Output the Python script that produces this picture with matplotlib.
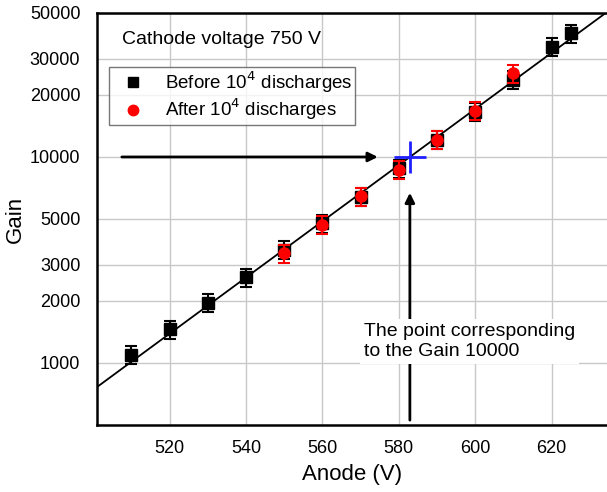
import numpy as np
import matplotlib
matplotlib.use('Agg')
import matplotlib.pyplot as plt
from matplotlib.ticker import FixedLocator, NullLocator
from matplotlib.lines import Line2D

plt.rcParams['font.family'] = ['Liberation Sans', 'DejaVu Sans']

# Gain vs anode voltage, cathode at 750 V
before_v    = [510, 520, 530, 540, 550, 560, 570, 580, 590, 600, 610, 620, 625]
before_gain = [1095, 1460, 1955, 2610, 3550, 4760, 6420, 8800, 12100, 16600, 23700, 34300, 39800]
after_v     = [550, 560, 570, 580, 590, 600, 610]
after_gain  = [3400, 4700, 6440, 8650, 12100, 16800, 25500]
rel_err     = 0.10

gain_ticks  = [1000, 2000, 3000, 5000, 10000, 20000, 30000, 50000]
volt_ticks  = [520, 540, 560, 580, 600, 620]
target_gain = 10000

fig = plt.figure(figsize=(6.07, 4.92), dpi=100)
ax = fig.add_axes([0.1598, 0.1362, 0.8402, 0.8374])
ax.set_yscale('log')
ax.set_xlim(501, 634.5)
ax.set_ylim(500, 50000)

ax.yaxis.set_major_locator(FixedLocator(gain_ticks))
ax.yaxis.set_minor_locator(NullLocator())
ax.set_yticklabels([str(t) for t in gain_ticks])
ax.xaxis.set_major_locator(FixedLocator(volt_ticks))
ax.grid(True, color='#c8c8c8', linewidth=1.0, zorder=0)
ax.tick_params(axis='y', length=0, labelsize=13, pad=12)
ax.tick_params(axis='x', length=0, labelsize=13, pad=11)

for s in ['left', 'top', 'bottom']:
    ax.spines[s].set_linewidth(1.8)
ax.spines['right'].set_visible(False)

# exponential fit through all points
allv = np.array(before_v + after_v, dtype=float)
allg = np.array(before_gain + after_gain, dtype=float)
b, a = np.polyfit(allv, np.log10(allg), 1)
xf = np.array([501, 640.0])
ax.plot(xf, 10 ** (a + b * xf), color='black', linewidth=1.3, zorder=2)
v_target = (np.log10(target_gain) - a) / b

bg = np.array(before_gain, dtype=float)
ax.errorbar(before_v, bg, yerr=rel_err * bg, fmt='s', color='black',
            markersize=8, elinewidth=1.5, capsize=4, capthick=1.5, zorder=3)
ag = np.array(after_gain, dtype=float)
ax.errorbar(after_v, ag, yerr=rel_err * ag, fmt='o', color='red',
            markersize=8, elinewidth=1.5, capsize=4, capthick=1.5, zorder=4)

# marker at the gain 10000 point
ax.plot([v_target], [target_gain], marker='+', color='#1f1fff', markersize=23,
        markeredgewidth=2, zorder=6)

ax.annotate('', xy=(574.5, target_gain), xytext=(507.5, target_gain),
            arrowprops=dict(arrowstyle='-|>', color='black', lw=2,
                            mutation_scale=14, shrinkA=0, shrinkB=0), zorder=5)
ax.annotate('', xy=(v_target, 6700), xytext=(v_target, 528),
            arrowprops=dict(arrowstyle='-|>', color='black', lw=2,
                            mutation_scale=14, shrinkA=0, shrinkB=0), zorder=5)

ax.text(570.8, 1270, 'The point corresponding\nto the Gain 10000', fontsize=14,
        ha='left', va='center', linespacing=1.2, zorder=7,
        bbox=dict(facecolor='white', edgecolor='none', pad=3))

ax.text(0.05, 0.935, 'Cathode voltage 750 V', transform=ax.transAxes,
        fontsize=14, ha='left', va='center')

handles = [Line2D([], [], linestyle='none', marker='s', color='black', markersize=7.5),
           Line2D([], [], linestyle='none', marker='o', color='red', markersize=7.5)]
labels = ['Before 10$^4$ discharges', 'After 10$^4$ discharges']
leg = ax.legend(handles, labels, loc='upper left', bbox_to_anchor=(0.024, 0.87),
                fontsize=13.5, frameon=True, fancybox=False, edgecolor='#555555',
                borderpad=0.15, handletextpad=0.6, labelspacing=0.1,
                handlelength=2.2, borderaxespad=0)
leg.get_frame().set_linewidth(1.0)

ax.set_xlabel('Anode (V)', fontsize=16, labelpad=5)
ax.set_ylabel('Gain', fontsize=16, labelpad=3)

plt.savefig('out.png', dpi=100)
plt.close('all')
